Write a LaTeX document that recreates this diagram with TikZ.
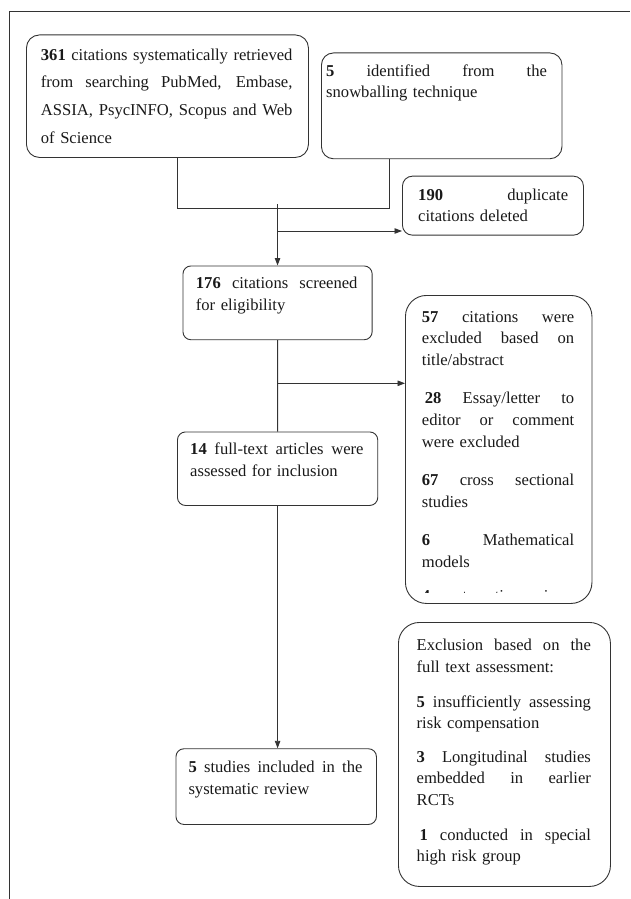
\documentclass[tikz,border=0pt]{standalone}
\usepackage{fontspec}
\setmainfont{Liberation Serif}
\usetikzlibrary{arrows.meta}
\setlength\parskip{0pt}
\hbadness=10000
\hfuzz=3pt
\definecolor{lc}{gray}{0.2}
\definecolor{tc}{gray}{0.1}
\newlength\lw
\newcommand\JL[1]{\noindent\hbox to\lw{\spaceskip=0.25em plus 1fil\relax\rule{0pt}{12pt}#1}\par}
\newcommand\LL[1]{\noindent\hbox{\rule{0pt}{12pt}#1}\par}
\newcommand\txtfont[1]{\fontsize{16.6pt}{#1pt}\selectfont}
\tikzset{
  box/.style={draw=lc, line width=0.9pt, rounded corners=#1, inner sep=0pt, anchor=north west},
  txt/.style={anchor=north west, inner sep=0pt, text width=#1, text=tc,
    execute at begin node={\setlength\lw{#1}}},
  ln/.style={draw=lc, line width=0.9pt},
  arr/.style={ln, -{Triangle[length=7.5pt,width=5.5pt]}},
  frm/.style={draw=lc, line width=1pt}
}
\begin{document}
\begin{tikzpicture}[x=1pt,y=-1pt]
\useasboundingbox (0,0) rectangle (630,899);
% outer frame
\draw[frm] (9,899) -- (9,11.5) -- (630,11.5);
% boxes
\node[box=13pt, minimum width=282pt, minimum height=122.5pt] (b1) at (26,34.5) {};
\node[box=12pt, minimum width=240.5pt, minimum height=105.8pt] (b2) at (321,52.5) {};
\node[box=10pt, minimum width=181pt, minimum height=59pt] (b3) at (402,175.7) {};
\node[box=8pt, minimum width=189.2pt, minimum height=73.8pt] (b4) at (182.5,265.5) {};
\node[box=21pt, minimum width=186.5pt, minimum height=308pt] (b5) at (405,295) {};
\node[box=8pt, minimum width=200.3pt, minimum height=73.5pt] (b6) at (177,431.5) {};
\node[box=8pt, minimum width=200.5pt, minimum height=75.7pt] (b7) at (175.5,748.3) {};
\node[box=21pt, minimum width=212pt, minimum height=264pt] (b8) at (398,622) {};
% texts
\node[txt=251.6pt, font=\txtfont{27.7}] (b1t) at (40.7,48)
  {\JL{\textbf{361} citations systematically retrieved}\JL{from searching PubMed, Embase,}\JL{ASSIA, PsycINFO, Scopus and Web}\LL{of Science}};
\node[txt=220.7pt, font=\txtfont{21}] (b2t) at (326,64.5)
  {\JL{\textbf{5} identified from the}\LL{snowballing technique}};
\node[txt=150pt, font=\txtfont{21.7}] (b3t) at (418,188)
  {\JL{\textbf{190} duplicate}\LL{citations deleted}};
\node[txt=161.6pt, font=\txtfont{22.3}] (b4t) at (195.7,276.3)
  {\JL{\textbf{176} citations screened}\LL{for eligibility}};
\node[txt=152.3pt, font=\txtfont{21.7}] (b5t) at (421.7,310)
  {\JL{\textbf{57} citations were}\JL{excluded based on}\LL{title/abstract}\vspace{16.5pt}%
   \JL{\hspace{3pt}\textbf{28} Essay/letter to}\JL{editor or comment}\LL{were excluded}\vspace{16.5pt}%
   \JL{\textbf{67} cross sectional}\LL{studies}\vspace{16.5pt}%
   \JL{\textbf{6} Mathematical}\LL{models}};
\begin{scope}
\clip (405,580) rectangle (591,592);
\node[txt=152.3pt, font=\txtfont{21.7}] (b5c) at (421.7,589)
  {\JL{\textbf{4} systematic reviews}};
\end{scope}
\node[txt=173.3pt, font=\txtfont{22.5}] (b6t) at (190,442)
  {\JL{\textbf{14} full-text articles were}\LL{assessed for inclusion}};
\node[txt=174pt, font=\txtfont{21.7}] (b7t) at (188.3,760.5)
  {\JL{\textbf{5} studies included in the}\LL{systematic review}};
\node[txt=174.2pt, font=\txtfont{21.5}] (b8t) at (416.5,638.5)
  {\JL{Exclusion based on the}\LL{full text assessment:}\vspace{13.5pt}%
   \JL{\textbf{5} insufficiently assessing}\LL{risk compensation}\vspace{12pt}%
   \JL{\textbf{3} Longitudinal studies}\JL{embedded in earlier}\LL{RCTs}\vspace{13.5pt}%
   \JL{\hspace{3pt}\textbf{1} conducted in special}\LL{high risk group}};
% connectors
\coordinate (j1) at (177,208.3);
\coordinate (j2) at (389,208.3);
\draw[ln] (b1.south -| j1) -- (j1) -- (j2) -- (b2.south -| j2);
\coordinate (m0) at (0,204);
\draw[arr] (b4.north |- m0) -- (b4.north);
\coordinate (k1) at (0,231);
\draw[arr] (b4.north |- k1) -- (b3.west |- k1);
\draw[ln] (b4.south) -- (b6.north);
\coordinate (k2) at (0,383.3);
\draw[arr] (b4.south |- k2) -- (b5.west |- k2);
\draw[arr] (b6.south) -- (b7.north -| b6.south);
\end{tikzpicture}
\end{document}
